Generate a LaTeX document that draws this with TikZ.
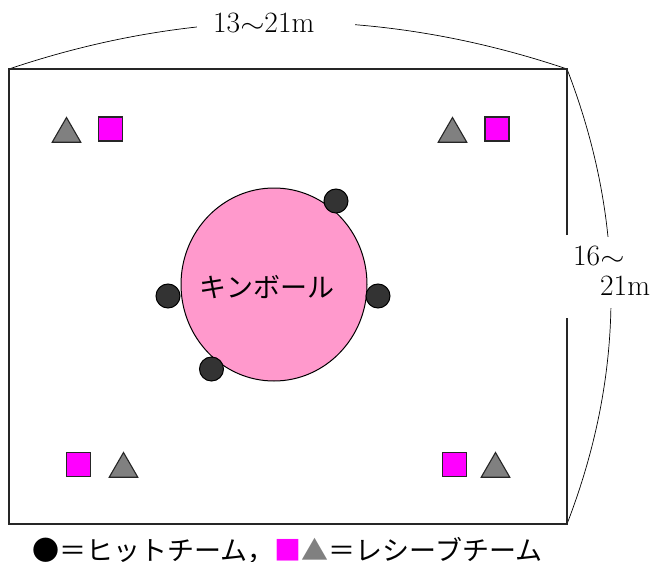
\documentclass[tikz,border=0pt]{standalone}
\usepackage{fontspec}
\newfontfamily\jp{Noto Sans CJK JP}
\usetikzlibrary{shapes.geometric}
\definecolor{ballpink}{HTML}{FF99CC}
\definecolor{hitcol}{HTML}{333333}
\definecolor{recvcol}{HTML}{FF00FF}
\definecolor{trigcol}{HTML}{808080}
\newcommand{\wavy}{\scalebox{1.25}[1]{$\sim$}}
\tikzset{
  court/.style={line width=1.4pt, draw=black!85},
  dimarc/.style={line width=0.7pt},
  hitdot/.style={circle, draw=black, fill=hitcol, line width=1pt, minimum size=24pt, inner sep=0pt},
  recvsq/.style={rectangle, draw=black!85, fill=recvcol, line width=1.1pt, minimum size=24pt, inner sep=0pt},
  recvtri/.style={regular polygon, regular polygon sides=3, draw=black!85, fill=trigcol, line width=1.1pt, minimum size=33pt, inner sep=0pt},
  numtxt/.style={font=\fontsize{29.5}{30}\selectfont, inner sep=0pt},
  jptxt/.style={font=\jp\fontsize{27}{27}\selectfont, inner sep=0pt},
}
\begin{document}
\begin{tikzpicture}[x=1pt,y=-1pt]
\useasboundingbox (0,0) rectangle (657,562);
\coordinate (tl) at (9,69);
\coordinate (tr) at (567,69);
\coordinate (bl) at (9,524);
\coordinate (br) at (567,524);
\coordinate (gapU) at (567,235);
\coordinate (gapD) at (567,318);
% dimension arcs
\draw[dimarc] (tl) .. controls (195,6.3) and (381,6.3) .. (tr);
\draw[dimarc] (tr) .. controls (625.7,221) and (625.7,372) .. (br);
% masks behind the dimension labels
\fill[white] (197,2) rectangle (355,40);
\fill[white] (580,237) rectangle (657,308);
% court
\draw[court] (gapU) -- (tr) -- (tl) -- (bl) -- (br) -- (gapD);
% dimension labels
\node[numtxt, anchor=base west] (wlab) at (213,32) {13\wavy 21m};
\node[numtxt, anchor=base west] (hlab1) at (573,265) {16\wavy};
\node[numtxt, anchor=base west] (hlab2) at (600,295) {21m};
% ball
\node[ellipse, draw=black, fill=ballpink, line width=1pt, minimum width=186pt, minimum height=193pt, inner sep=0pt] (ball) at (274,284.5) {};
\node[jptxt, anchor=base] (balltxt) at (267,297) {キンボール};
% hit team
\node[hitdot] (h1) at (336,201) {};
\node[hitdot] (h2) at (168,296) {};
\node[hitdot] (h3) at (378,296) {};
\node[hitdot] (h4) at (211.5,369) {};
% receive team
\node[recvtri] (t1) at (66.5,134) {};
\node[recvsq] (s1) at (110.5,129) {};
\node[recvtri] (t2) at (452.5,134) {};
\node[recvsq] (s2) at (497,129) {};
\node[recvsq] (s3) at (78.5,464.5) {};
\node[recvtri] (t3) at (123.5,469) {};
\node[recvsq] (s4) at (454.5,464.5) {};
\node[recvtri] (t4) at (495.5,469) {};
% caption
\node[jptxt, anchor=base] (cap) at (287.5,560) {●＝ヒットチーム，{\color{recvcol}■}{\color{trigcol}▲}＝レシーブチーム};
\end{tikzpicture}
\end{document}
